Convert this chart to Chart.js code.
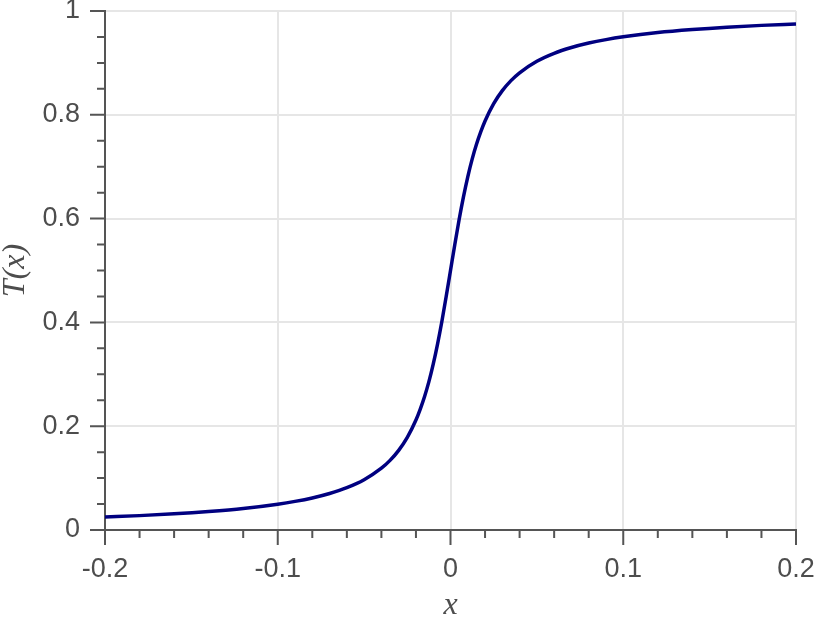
<!DOCTYPE html>
<html>
<head>
<meta charset="utf-8">
<script src="https://cdn.jsdelivr.net/npm/chart.js@4.4.1/dist/chart.umd.min.js"></script>
<style>
  body { margin: 0; background: #fff; }
  #wrap { width: 814px; height: 618px; }
</style>
</head>
<body>
<div id="wrap"><canvas id="tChart" width="814" height="618"></canvas></div>
<script>
// x positions and T(x) values
const xValues = [
  -0.2, -0.18, -0.16, -0.14, -0.12, -0.1, -0.09, -0.08, -0.07, -0.06, -0.05,
  -0.04, -0.035, -0.03, -0.025, -0.02, -0.0175, -0.015, -0.0125, -0.01,
  -0.0075, -0.005, -0.0025, 0, 0.0025, 0.005, 0.0075, 0.01, 0.0125, 0.015,
  0.0175, 0.02, 0.025, 0.03, 0.035, 0.04, 0.05, 0.06, 0.07, 0.08, 0.09, 0.1,
  0.12, 0.14, 0.16, 0.18, 0.2,
];
const tValues = [
  0.0249, 0.0277, 0.0311, 0.0356, 0.0414, 0.0497, 0.0551, 0.0618, 0.0704, 0.0815, 0.0969,
  0.119, 0.1341, 0.1535, 0.1785, 0.2119, 0.2330, 0.2573, 0.2858, 0.3194,
  0.3582, 0.4018, 0.4498, 0.5, 0.5502, 0.5982, 0.6418, 0.6806, 0.7142, 0.7427,
  0.7670, 0.7881, 0.8215, 0.8465, 0.8659, 0.881, 0.9031, 0.9185, 0.9296, 0.9382, 0.9449, 0.9503,
  0.9586, 0.9644, 0.9689, 0.9723, 0.9751,
];
const xTickLabels = ["-0.2", "-0.1", "0", "0.1", "0.2"];
const yTickLabels = ["0", "0.2", "0.4", "0.6", "0.8", "1"];

const axisColor = "#555555";
const textColor = "#4d4d4d";
const gridColor = "#e6e6e6";

// draws the major and minor tick marks outside the axes
const tickMarks = {
  id: "tickMarks",
  afterDraw(chart) {
    const ctx = chart.ctx;
    const xs = chart.scales.x;
    const ys = chart.scales.y;
    const area = chart.chartArea;
    ctx.save();
    ctx.strokeStyle = axisColor;
    ctx.lineWidth = 2;
    ctx.beginPath();
    for (let i = 0; i <= 20; i++) {
      const v = -0.2 + i * 0.02;
      const px = xs.getPixelForValue(v);
      const len = i % 5 === 0 ? 15 : 8;
      ctx.moveTo(px, area.bottom);
      ctx.lineTo(px, area.bottom + len);
    }
    for (let i = 0; i <= 20; i++) {
      const v = i * 0.05;
      const py = ys.getPixelForValue(v);
      const len = i % 4 === 0 ? 15 : 8;
      ctx.moveTo(area.left, py);
      ctx.lineTo(area.left - len, py);
    }
    ctx.stroke();
    ctx.restore();
  },
};

const ctx = document.getElementById("tChart").getContext("2d");

const tChart = new Chart(ctx, {
  type: "scatter",
  data: {
    datasets: [
      {
        data: xValues.map((x, i) => ({ x: x, y: tValues[i] })),
        showLine: true,
        borderColor: "#000080",
        borderWidth: 3.5,
        pointRadius: 0,
        cubicInterpolationMode: "monotone",
      },
    ],
  },
  options: {
    responsive: false,
    animation: false,
    layout: { padding: { top: 11, right: 18, left: 0, bottom: 0 } },
    plugins: {
      legend: { display: false },
      tooltip: { enabled: false },
    },
    scales: {
      x: {
        type: "linear",
        min: -0.2,
        max: 0.2,
        afterFit(scale) {
          scale.height = 88;
          scale.paddingLeft = 0;
          scale.paddingRight = 0;
        },
        afterBuildTicks(scale) {
          scale.ticks = xTickLabels.map((t) => ({ value: parseFloat(t) }));
        },
        ticks: {
          padding: 23,
          color: textColor,
          font: { family: "Liberation Sans, Arial, sans-serif", size: 27 },
          maxRotation: 0,
          callback: (v, i) => xTickLabels[i],
        },
        grid: { color: gridColor, lineWidth: 2, drawTicks: false },
        border: { color: axisColor, width: 2 },
        title: {
          display: true,
          text: "x",
          color: textColor,
          font: { family: "Liberation Serif, serif", size: 32, style: "italic", lineHeight: 0.8 },
          padding: { top: 0, bottom: 0 },
        },
      },
      y: {
        type: "linear",
        min: 0,
        max: 1,
        afterFit(scale) {
          scale.width = 105;
          scale.paddingTop = 0;
          scale.paddingBottom = 0;
        },
        afterBuildTicks(scale) {
          scale.ticks = yTickLabels.map((t) => ({ value: parseFloat(t) }));
        },
        ticks: {
          padding: 25,
          color: textColor,
          font: { family: "Liberation Sans, Arial, sans-serif", size: 27 },
          callback: (v, i) => yTickLabels[i],
        },
        grid: { color: gridColor, lineWidth: 2, drawTicks: false },
        border: { color: axisColor, width: 2 },
        title: {
          display: true,
          text: "T(x)",
          color: textColor,
          font: { family: "Liberation Serif, serif", size: 32, style: "italic", lineHeight: 1 },
          padding: { top: 0, bottom: 0 },
        },
      },
    },
  },
  plugins: [tickMarks],
});
</script>
</body>
</html>
